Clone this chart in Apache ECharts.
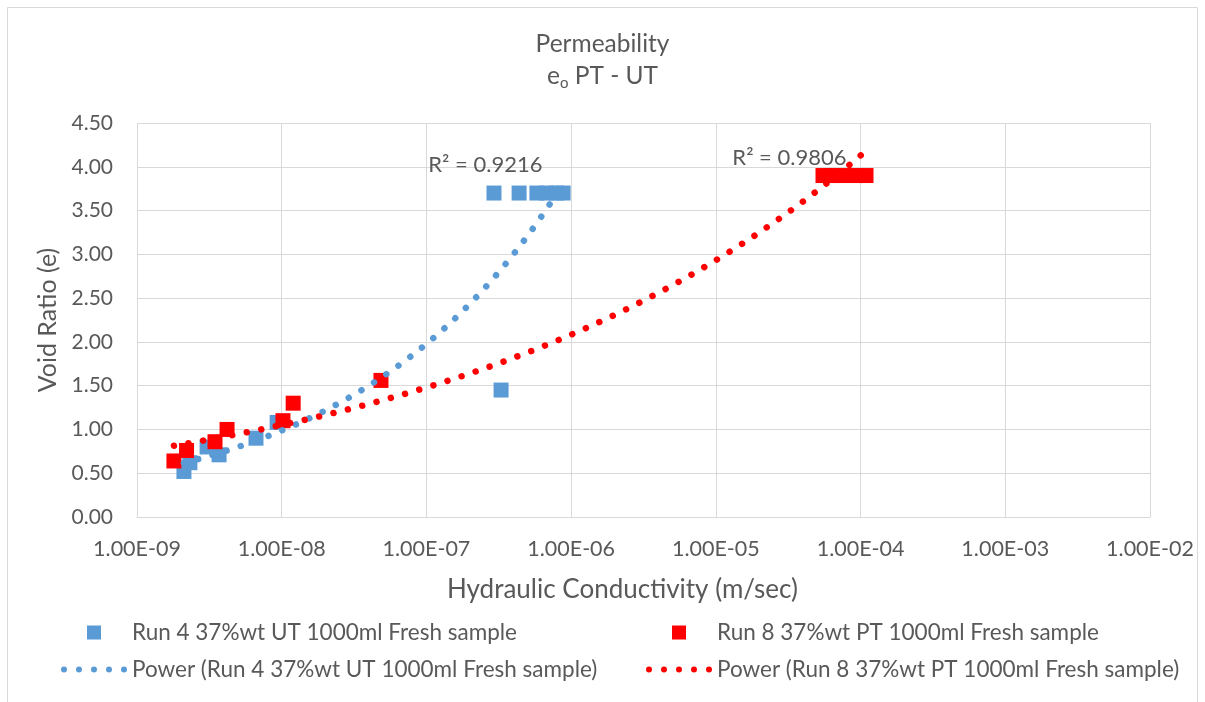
<!DOCTYPE html>
<html>
<head>
<meta charset="utf-8">
<script src="https://cdn.jsdelivr.net/npm/echarts@6/dist/echarts.min.js"></script>
<style>
html,body{margin:0;padding:0;background:#fff;}
#chart{width:1205px;height:702px;}
</style>
</head>
<body>
<div id="chart"></div>
<script>
// ---- data ----
const run4Name = 'Run 4 37%wt UT 1000ml Fresh sample';
const run8Name = 'Run 8 37%wt PT 1000ml Fresh sample';
const run4K = [2.11e-9, 2.32e-9, 3.05e-9, 3.69e-9, 6.64e-9, 9.3e-9, 3.28e-7, 2.93e-7, 4.37e-7, 5.8e-7, 6.8e-7, 7.9e-7, 8.8e-7];
const run4E = [0.52, 0.62, 0.80, 0.71, 0.90, 1.08, 1.45, 3.70, 3.70, 3.70, 3.70, 3.70, 3.70];
const run8K = [1.80e-9, 2.2e-9, 3.46e-9, 4.19e-9, 1.02e-8, 1.2e-8, 4.85e-8, 5.5e-5, 6.35e-5, 7.45e-5, 9.3e-5, 1.09e-4];
const run8E = [0.64, 0.76, 0.86, 1.00, 1.10, 1.30, 1.56, 3.90, 3.90, 3.90, 3.90, 3.90];
const run4R2 = 'R² = 0.9216';
const run8R2 = 'R² = 0.9806';
const xTickLabels = ['1.00E-09','1.00E-08','1.00E-07','1.00E-06','1.00E-05','1.00E-04','1.00E-03','1.00E-02'];
const yTickLabels = ['0.00','0.50','1.00','1.50','2.00','2.50','3.00','3.50','4.00','4.50'];

// ---- power trendline (least squares on ln x / ln y, like Excel) ----
function powerFit(xs, ys){
  const n = xs.length; let sx=0, sy=0, sxx=0, sxy=0;
  for (let i=0;i<n;i++){ const lx=Math.log(xs[i]), ly=Math.log(ys[i]); sx+=lx; sy+=ly; sxx+=lx*lx; sxy+=lx*ly; }
  const b = (n*sxy - sx*sy)/(n*sxx - sx*sx);
  const a = Math.exp((sy - b*sx)/n);
  return {a, b};
}
function trendPoints(xs, ys){
  const f = powerFit(xs, ys);
  const lo = Math.log10(Math.min(...xs)), hi = Math.log10(Math.max(...xs));
  const pts = []; const steps = 150;
  for (let i=0;i<=steps;i++){ const x = Math.pow(10, lo + (hi-lo)*i/steps); pts.push([x, f.a*Math.pow(x, f.b)]); }
  return pts;
}
const zip = (xs, ys) => xs.map((x,i)=>[x, ys[i]]);

const FONT = 'Lato';
const TXT = '#595959';
const BLUE = '#5b9bd5';
const RED = '#ff0000';
const dotsIcon = 'path://M0,3a3,3 0 1,0 6,0a3,3 0 1,0 -6,0zM15,3a3,3 0 1,0 6,0a3,3 0 1,0 -6,0zM30,3a3,3 0 1,0 6,0a3,3 0 1,0 -6,0zM45,3a3,3 0 1,0 6,0a3,3 0 1,0 -6,0zM60,3a3,3 0 1,0 6,0a3,3 0 1,0 -6,0z';
// square centred in a 66x14 box (tiny corner anchors keep the box size)
const squareIcon = 'path://M0,0h0.01v0.01h-0.01zM26,0h14v14h-14zM66,14h-0.01v-0.01h0.01z';

function legendFor(name, icon, left, top, w, h){
  return {
    data: [{name: name, icon: icon}], left: left, top: top, padding: 0,
    itemWidth: w, itemHeight: h, symbolKeepAspect: true, selectedMode: false,
    textStyle: {fontFamily: FONT, fontSize: 22.5, color: TXT}
  };
}

const chart = echarts.init(document.getElementById('chart'));
const option = {
  animation: false,
  backgroundColor: '#fff',
  textStyle: {fontFamily: FONT},
  title: {
    left: 'center', top: 30, itemGap: 3, padding: 0,
    text: 'Permeability',
    textStyle: {fontFamily: FONT, fontSize: 24.5, fontWeight: 'normal', color: TXT, lineHeight: 28},
    subtext: '{m|e}{s|o}{m| PT - UT}',
    subtextStyle: {
      fontFamily: FONT, color: TXT,
      rich: {
        m: {fontFamily: FONT, fontSize: 24.5, color: TXT, lineHeight: 30},
        s: {fontFamily: FONT, fontSize: 15, color: TXT, lineHeight: 30, padding: [14,0,0,0]}
      }
    }
  },
  grid: {left: 137, right: 55, top: 123, bottom: 185, containLabel: false},
  xAxis: {
    type: 'log', logBase: 10, min: 1e-9, max: 1e-2, interval: 1,
    name: 'Hydraulic Conductivity (m/sec)', nameLocation: 'middle', nameGap: 60,
    nameTextStyle: {fontFamily: FONT, fontSize: 26, color: TXT, padding: [0, 42, 0, 0]},
    axisLine: {show: true, lineStyle: {color: '#d9d9d9', width: 1}},
    axisTick: {show: false},
    axisLabel: {
      fontFamily: FONT, fontSize: 21.5, color: TXT, margin: 21,
      formatter: v => xTickLabels[Math.round(Math.log10(v)) + 9]
    },
    splitLine: {show: true, lineStyle: {color: '#d9d9d9', width: 1}},
    minorTick: {show: false}
  },
  yAxis: {
    type: 'value', min: 0, max: 4.5, interval: 0.5,
    name: 'Void Ratio (e)', nameLocation: 'middle', nameGap: 75,
    nameTextStyle: {fontFamily: FONT, fontSize: 25, color: TXT},
    axisLine: {show: false},
    axisTick: {show: false},
    axisLabel: {
      fontFamily: FONT, fontSize: 21, color: TXT, margin: 24,
      formatter: v => yTickLabels[Math.round(v/0.5)]
    },
    splitLine: {show: true, lineStyle: {color: '#d9d9d9', width: 1}}
  },
  legend: [
    legendFor(run4Name, squareIcon, 61, 621, 66, 14),
    legendFor(run8Name, squareIcon, 646, 621, 66, 14),
    legendFor('Power (' + run4Name + ')', dotsIcon, 61, 658, 66, 6),
    legendFor('Power (' + run8Name + ')', dotsIcon, 646, 658, 66, 6)
  ],
  series: [
    {name: run4Name, type: 'scatter', symbol: 'rect', symbolSize: 15, data: zip(run4K, run4E),
     itemStyle: {color: BLUE, opacity: 1}, z: 2},
    {name: run8Name, type: 'scatter', symbol: 'rect', symbolSize: 15, data: zip(run8K, run8E),
     itemStyle: {color: RED, opacity: 1}, z: 3},
    {name: 'Power (' + run4Name + ')', type: 'line', showSymbol: false, symbol: 'none', smooth: false,
     data: trendPoints(run4K, run4E), itemStyle: {color: BLUE},
     lineStyle: {color: BLUE, width: 6.5, type: [0.01, 14.8], cap: 'round'}, z: 4},
    {name: 'Power (' + run8Name + ')', type: 'line', showSymbol: false, symbol: 'none', smooth: false,
     data: trendPoints(run8K, run8E), itemStyle: {color: RED},
     lineStyle: {color: RED, width: 6.5, type: [0.01, 14.8], cap: 'round'}, z: 5}
  ]
};
chart.setOption(option);

// R² annotations + chart border
const p4 = chart.convertToPixel({gridIndex: 0}, [1.03e-7, 4.02]);
const p8 = chart.convertToPixel({gridIndex: 0}, [1.3e-5, 4.10]);
chart.setOption({
  graphic: [
    {type: 'rect', shape: {x: 7.5, y: 7.5, width: 1190, height: 720}, style: {fill: 'none', stroke: '#d9d9d9', lineWidth: 1}, silent: true, z: -1},
    {type: 'text', x: p4[0], y: p4[1], style: {text: run4R2, font: '22px ' + FONT, fill: TXT, textVerticalAlign: 'middle'}},
    {type: 'text', x: p8[0], y: p8[1], style: {text: run8R2, font: '22px ' + FONT, fill: TXT, textVerticalAlign: 'middle'}}
  ]
});
</script>
</body>
</html>
